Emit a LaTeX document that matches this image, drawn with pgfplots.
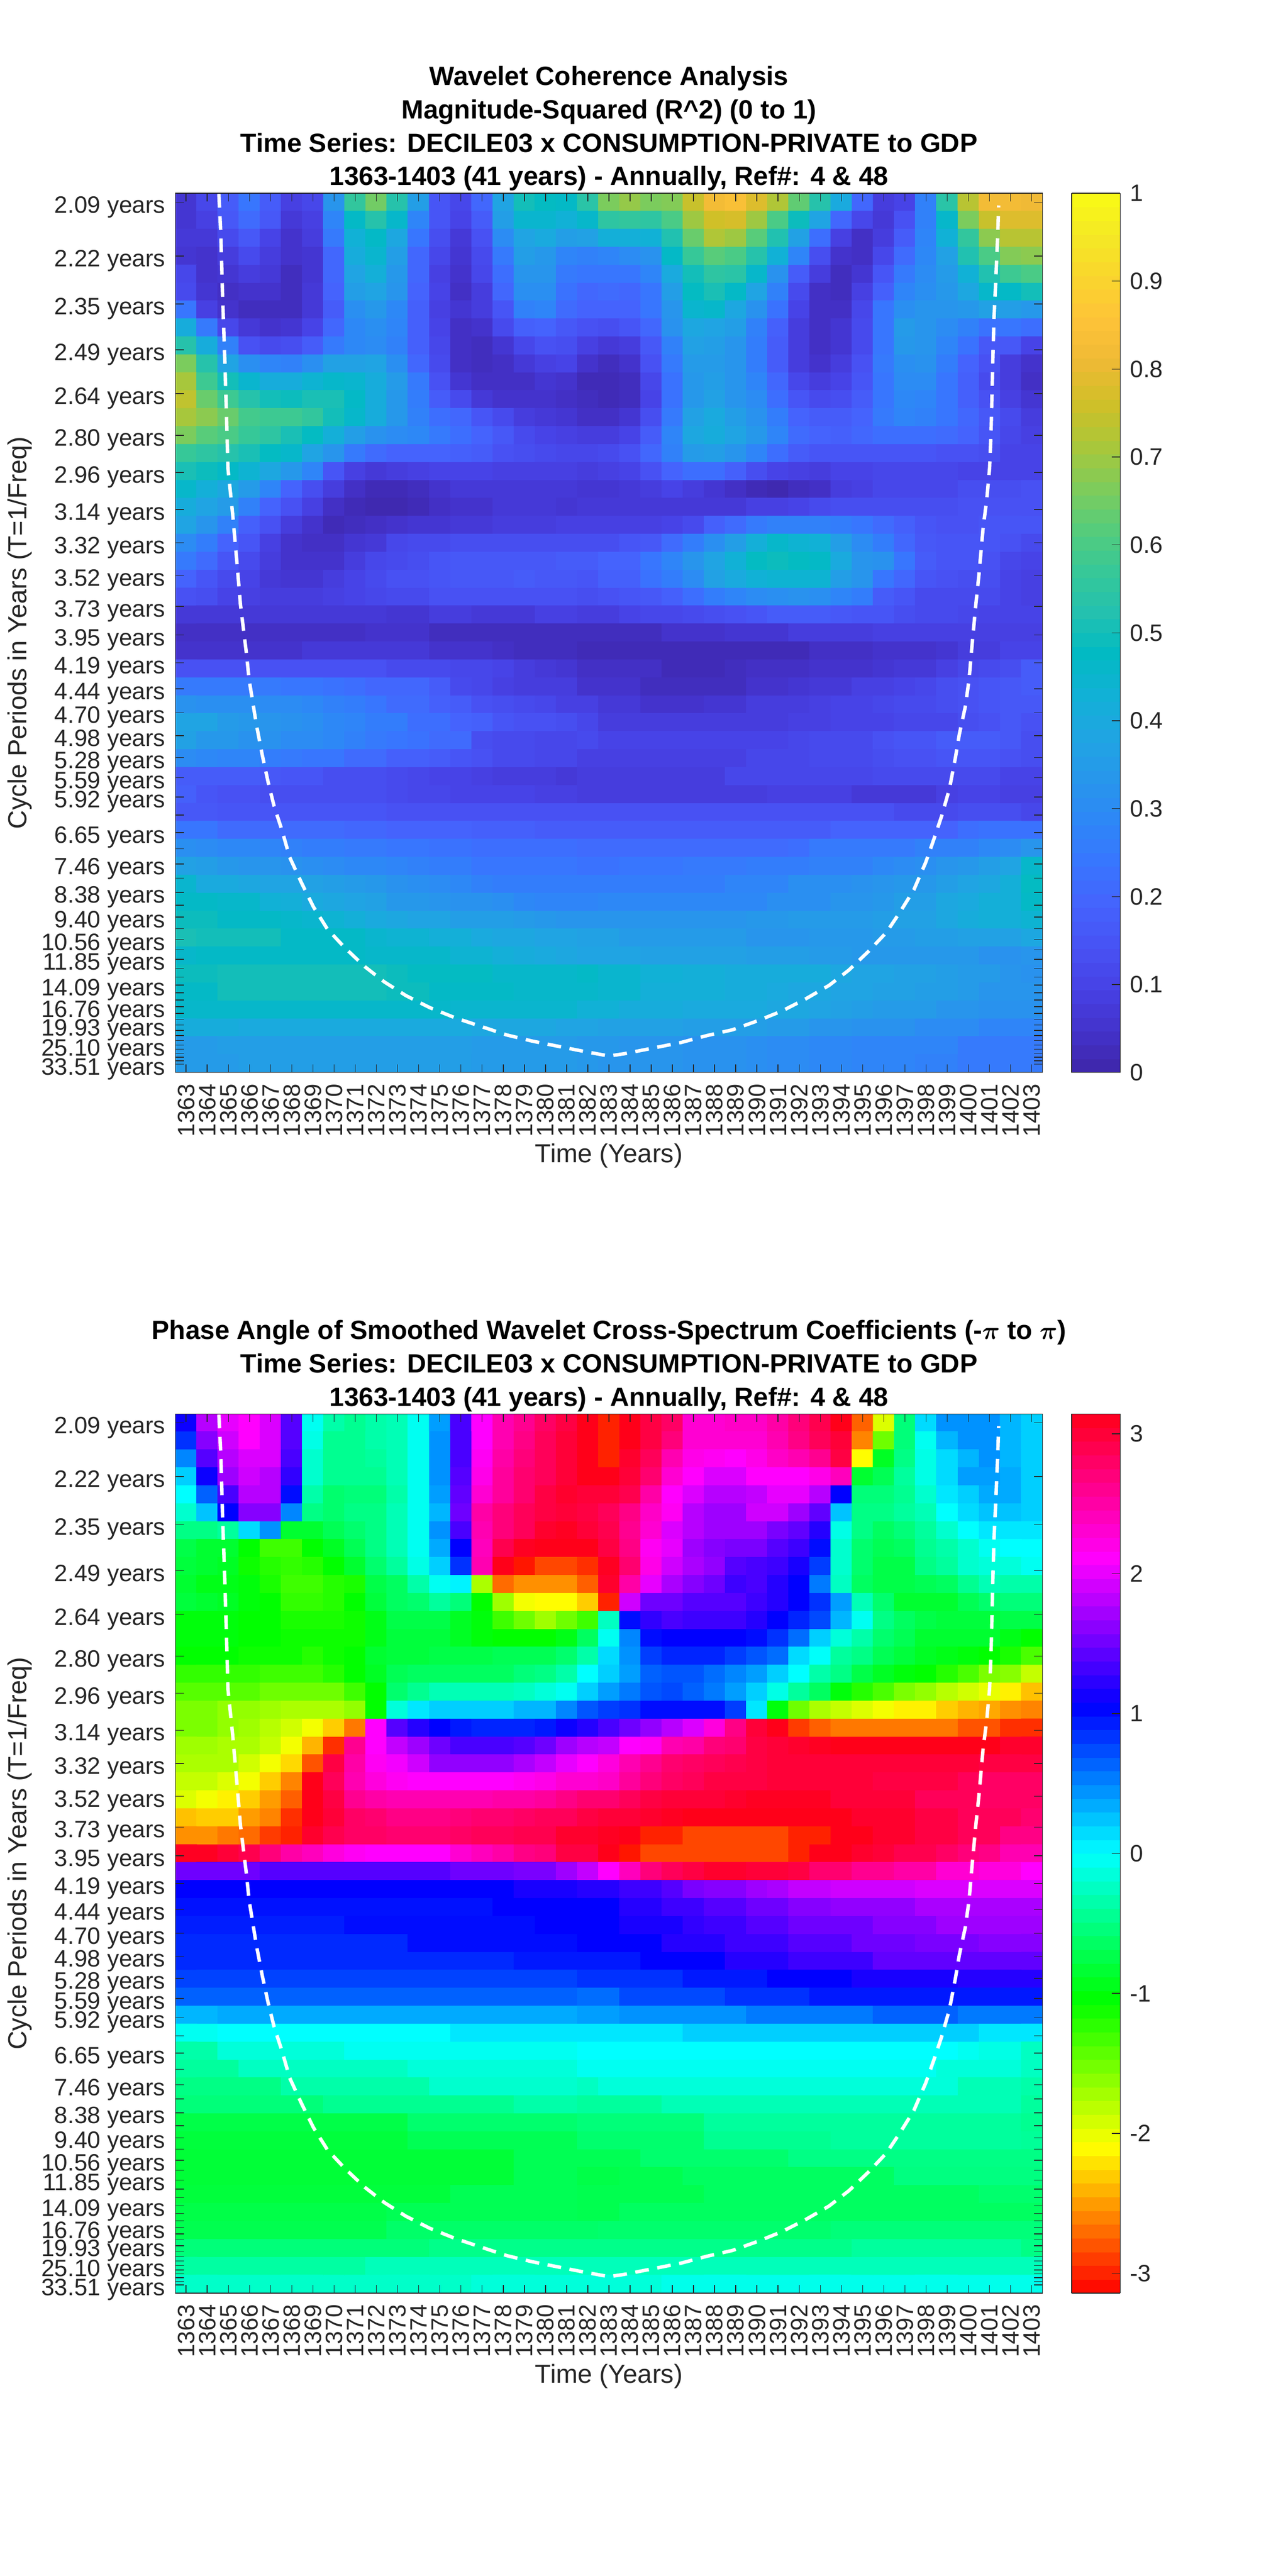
\documentclass[border=0pt]{standalone}
\usepackage{fontspec}
\setmainfont{Liberation Sans}
\usepackage{pgfplots}
\pgfplotsset{compat=1.18}
\usepackage{pgfplotstable}
\definecolor{axgray}{RGB}{38,38,38}
\pgfplotstableread{
yr f
1364.55 0.4828
1364.64 0.46265
1364.70 0.43903
1364.75 0.42173
1364.83 0.39655
1364.90 0.37137
1364.98 0.33991
1365.20 0.31632
1365.39 0.29273
1365.57 0.26914
1365.85 0.24394
1365.98 0.23000
1366.32 0.20688
1366.60 0.19088
1366.88 0.17664
1367.16 0.16420
1367.53 0.15176
1367.90 0.13752
1368.46 0.12418
1369.02 0.11175
1369.68 0.10019
1370.51 0.09041
1371.45 0.08062
1372.38 0.07263
1373.40 0.06551
1374.52 0.05929
1375.73 0.05395
1376.94 0.04951
1378.16 0.04505
1379.37 0.04185
1380.49 0.03937
1381.80 0.03652
1383.00 0.03409
1383.72 0.03527
1385.21 0.03849
1386.42 0.04115
1387.63 0.04471
1388.84 0.04773
1390.06 0.05253
1391.18 0.05751
1392.29 0.06373
1393.41 0.07085
1394.35 0.07885
1395.28 0.08863
1396.12 0.09841
1396.77 0.10909
1397.42 0.12062
1397.98 0.13487
1398.35 0.14642
1398.73 0.15886
1399.10 0.17310
1399.38 0.18910
1399.57 0.20154
1399.85 0.21578
1400.03 0.23000
1400.17 0.24778
1400.35 0.26914
1400.50 0.28484
1400.69 0.30845
1400.87 0.32417
1401.00 0.33991
1401.06 0.35565
1401.10 0.37137
1401.15 0.39498
1401.21 0.41857
1401.28 0.43432
1401.34 0.45006
1401.39 0.46265
1401.43 0.47680
}\coi
\pgfplotsset{
  waveaxis/.style={
    scale only axis, width=504.96pt, height=512.16pt,
    xmin=1362.5, xmax=1403.5, ymin=0.02551, ymax=0.48317,
    axis on top, tick align=inside, major tick length=4.8pt,
    axis line style={axgray,line width=0.45pt},
    tick style={axgray,line width=0.45pt},
    xtick={1363,1364,...,1403},
    xticklabel pos=lower, yticklabel pos=left,
    xticklabel style={rotate=90,anchor=east,font=\fontsize{13.8}{14}\selectfont,text=axgray,
      /pgf/number format/1000 sep={},/pgf/number format/assume math mode=true,inner sep=0pt,xshift=-6.5pt},
    yticklabel style={font=\fontsize{13.8}{14}\selectfont,text=axgray,inner sep=0pt,xshift=-5.8pt,yshift=-2.8pt},
    ytick={0.4785,0.4505,0.4255,0.4016,0.3788,0.3571,0.3378,0.3185,0.3012,0.2841,0.2681,0.2532,0.2387,0.2252,0.2128,0.2008,0.1894,0.1789,0.1689,0.1595,0.1504,0.1420,0.1340,0.1266,0.1193,0.1126,0.1064,0.1004,0.0947,0.0894,0.0844,0.0797,0.0752,0.0710,0.0670,0.0632,0.0597,0.0563,0.0532,0.0502,0.0474,0.0447,0.0422,0.0398,0.0376,0.0355,0.0335,0.0316,0.0298},
    yticklabels={2.09 years,2.22 years,2.35 years,2.49 years,2.64 years,2.80 years,2.96 years,3.14 years,3.32 years,3.52 years,3.73 years,3.95 years,4.19 years,4.44 years,4.70 years,4.98 years,5.28 years,5.59 years,5.92 years,{},6.65 years,{},7.46 years,{},8.38 years,{},9.40 years,{},10.56 years,{},11.85 years,{},{},14.09 years,{},{},16.76 years,{},{},19.93 years,{},{},{},25.10 years,{},{},{},{},33.51 years},
    xlabel={Time (Years)},
    ylabel={Cycle Periods in Years (T=1/Freq)},
    xlabel style={at={(axis description cs:0.5,-0.0945)},anchor=center,font=\fontsize{15.2}{16}\selectfont,text=axgray},
    ylabel style={at={(axis description cs:-0.1795,0.5)},anchor=center,font=\fontsize{15.2}{16}\selectfont,text=axgray},
    title style={at={(axis description cs:0.5,1)},anchor=south,align=center,yshift=-8.2pt,font=\bfseries\fontsize{15.4}{19.4}\selectfont,text=black},
    colorbar sampled,
    colorbar shift/.style={},
  },
  barstyle/.style={
    width=28.3pt, samples=65,
    at={(parent axis.north east)}, anchor=north west, xshift=17.04pt,
    axis line style={axgray,line width=0.45pt},
    tick align=inside, major tick length=4.8pt, ytick pos=right, yticklabel pos=right,
    tick style={axgray,line width=0.45pt},
    yticklabel style={font=\fontsize{13.8}{14}\selectfont,text=axgray,inner sep=0pt,xshift=5.5pt},
  },
}
\begin{document}
\begin{tikzpicture}
\path[use as bounding box] (0,0) rectangle (750pt,1500.48pt);
\begin{axis}[waveaxis, at={(102.24pt,875.76pt)}, anchor=south west,
  title={Wavelet Coherence Analysis\\Magnitude-Squared (R\textasciicircum 2) (0 to 1)\\Time Series: DECILE03 x CONSUMPTION-PRIVATE to GDP\\1363-1403 (41 years) - Annually, Ref\#: 4 \& 48},
  colormap={parulam}{rgb(0)=(.2422,.1504,.6603) rgb(3)=(.2647,.1978,.7952) rgb(6)=(.2783,.2559,.8991) rgb(9)=(.2810,.3228,.9579) rgb(12)=(.2699,.3892,.9906) rgb(15)=(.2206,.4603,.9973) rgb(18)=(.1786,.5289,.9682) rgb(21)=(.1540,.5902,.9218) rgb(24)=(.1248,.6459,.8883) rgb(27)=(.0689,.6948,.8394) rgb(30)=(.0067,.7312,.7660) rgb(33)=(.1408,.7584,.6842) rgb(36)=(.2161,.7843,.5923) rgb(39)=(.3406,.8008,.4789) rgb(42)=(.5044,.7993,.3480) rgb(45)=(.6720,.7793,.2227) rgb(48)=(.8203,.7498,.1535) rgb(51)=(.9393,.7288,.2100) rgb(54)=(.9970,.7659,.2199) rgb(57)=(.9786,.8386,.1766) rgb(60)=(.9597,.9135,.1423) rgb(63)=(.9769,.9839,.0805)},
  point meta min=0, point meta max=100,
  colorbar style={barstyle, ytick={0,10,20,30,40,50,60,70,80,90,100}, yticklabels={0,0.1,0.2,0.3,0.4,0.5,0.6,0.7,0.8,0.9,1}},
]
% coherence in percent, one row per period, 41 years per row
\addplot[matrix plot*, mesh/cols=41, point meta=explicit] table[row sep=crcr, x expr={1363+floor(\coordindex+0.5-41*floor((\coordindex+0.5)/41))}, y expr={0.4785-0.00934*floor((\coordindex+0.5)/41)}, meta=z] {z\\
6\\11\\17\\24\\17\\9\\11\\33\\56\\65\\53\\36\\15\\11\\20\\38\\50\\48\\47\\54\\66\\69\\66\\67\\75\\82\\84\\78\\72\\63\\53\\40\\20\\8\\10\\27\\54\\73\\82\\82\\81\\
6\\9\\16\\21\\16\\7\\9\\28\\47\\53\\46\\28\\15\\10\\17\\36\\45\\45\\43\\46\\55\\56\\55\\60\\70\\76\\77\\70\\60\\49\\38\\20\\11\\7\\14\\27\\46\\66\\75\\78\\78\\
7\\7\\12\\16\\10\\5\\8\\25\\43\\47\\39\\24\\13\\7\\14\\30\\38\\40\\36\\37\\42\\42\\43\\52\\64\\72\\70\\62\\52\\37\\22\\9\\4\\8\\17\\28\\43\\56\\68\\73\\73\\
6\\5\\8\\12\\8\\5\\6\\20\\41\\45\\36\\20\\11\\6\\12\\25\\36\\34\\28\\27\\28\\30\\32\\47\\57\\62\\60\\53\\43\\28\\13\\5\\4\\11\\21\\29\\37\\52\\60\\67\\68\\
11\\5\\6\\8\\7\\3\\6\\20\\38\\42\\34\\20\\9\\5\\11\\22\\33\\33\\25\\24\\24\\24\\28\\40\\50\\55\\54\\46\\32\\17\\8\\3\\6\\15\\25\\30\\35\\43\\52\\58\\60\\
12\\6\\4\\5\\5\\3\\7\\19\\36\\38\\33\\19\\10\\4\\8\\20\\31\\31\\23\\20\\21\\20\\24\\36\\48\\51\\47\\38\\27\\12\\4\\3\\9\\18\\28\\31\\34\\39\\46\\47\\50\\
24\\9\\5\\3\\3\\3\\7\\17\\31\\34\\29\\18\\9\\6\\8\\15\\27\\28\\21\\19\\19\\19\\24\\33\\45\\46\\39\\32\\23\\10\\4\\4\\11\\24\\31\\33\\33\\34\\37\\36\\34\\
41\\25\\11\\7\\5\\6\\10\\20\\29\\31\\28\\18\\10\\4\\5\\12\\18\\19\\16\\14\\13\\15\\20\\32\\39\\38\\36\\27\\18\\8\\4\\6\\12\\24\\35\\33\\30\\27\\23\\24\\22\\
53\\41\\27\\14\\12\\13\\17\\25\\29\\30\\27\\18\\11\\4\\3\\6\\11\\14\\13\\9\\7\\8\\16\\27\\37\\36\\33\\26\\17\\8\\4\\6\\12\\24\\34\\33\\28\\23\\16\\16\\10\\
66\\53\\38\\31\\28\\27\\31\\37\\37\\38\\31\\20\\12\\4\\3\\4\\7\\9\\10\\5\\3\\5\\14\\25\\35\\35\\33\\26\\17\\8\\5\\8\\14\\25\\31\\32\\26\\19\\14\\8\\5\\
71\\58\\50\\45\\41\\41\\44\\46\\45\\41\\35\\25\\14\\6\\4\\4\\4\\6\\5\\2\\2\\3\\11\\23\\34\\36\\33\\28\\20\\11\\8\\10\\15\\24\\30\\30\\24\\18\\12\\8\\4\\
74\\64\\58\\53\\50\\49\\51\\51\\47\\41\\34\\26\\17\\12\\7\\5\\5\\5\\4\\3\\2\\3\\10\\23\\34\\37\\33\\30\\22\\15\\12\\13\\17\\24\\29\\28\\24\\18\\14\\9\\6\\
71\\68\\64\\59\\58\\58\\56\\50\\46\\41\\34\\27\\22\\20\\15\\12\\8\\7\\6\\4\\4\\6\\13\\25\\37\\40\\36\\32\\26\\19\\17\\17\\19\\25\\28\\27\\24\\20\\16\\12\\8\\
66\\62\\60\\57\\55\\51\\48\\42\\36\\32\\30\\29\\25\\22\\19\\16\\12\\10\\9\\8\\8\\10\\17\\28\\39\\41\\38\\34\\28\\21\\19\\18\\20\\22\\22\\22\\21\\19\\15\\11\\9\\
57\\55\\53\\51\\48\\46\\38\\33\\25\\21\\19\\19\\19\\18\\17\\14\\13\\12\\11\\11\\12\\14\\20\\27\\35\\36\\33\\28\\22\\17\\15\\15\\15\\15\\15\\15\\14\\14\\13\\10\\10\\
51\\49\\47\\44\\39\\34\\28\\15\\9\\7\\8\\9\\10\\10\\10\\9\\9\\9\\9\\8\\9\\10\\14\\19\\22\\22\\18\\13\\10\\9\\8\\10\\10\\11\\11\\11\\11\\10\\10\\10\\10\\
46\\42\\39\\35\\28\\19\\13\\8\\4\\2\\2\\3\\5\\7\\7\\7\\7\\7\\7\\6\\6\\7\\8\\10\\8\\6\\4\\2\\1\\3\\4\\8\\9\\11\\11\\11\\11\\13\\13\\13\\14\\
41\\38\\35\\27\\19\\14\\9\\4\\2\\1\\1\\2\\4\\5\\5\\7\\7\\7\\6\\7\\7\\7\\7\\7\\7\\7\\7\\9\\9\\10\\12\\13\\13\\13\\13\\13\\13\\14\\14\\14\\14\\
38\\33\\27\\18\\14\\8\\5\\2\\3\\4\\5\\6\\6\\7\\7\\8\\8\\8\\9\\9\\9\\9\\9\\10\\12\\18\\21\\25\\27\\27\\27\\26\\24\\21\\18\\15\\14\\14\\15\\15\\15\\
30\\26\\19\\15\\9\\5\\4\\4\\6\\7\\11\\12\\12\\13\\13\\13\\13\\13\\13\\13\\13\\15\\16\\21\\26\\31\\36\\42\\46\\44\\43\\36\\30\\26\\20\\16\\15\\15\\15\\14\\12\\
25\\21\\15\\12\\8\\5\\5\\5\\8\\11\\12\\13\\15\\16\\16\\16\\16\\16\\17\\17\\19\\19\\24\\28\\33\\38\\43\\48\\49\\48\\47\\40\\33\\32\\24\\17\\15\\15\\14\\11\\10\\
19\\15\\12\\10\\7\\6\\6\\8\\10\\12\\14\\14\\15\\16\\16\\16\\17\\16\\16\\15\\18\\18\\23\\26\\30\\37\\40\\43\\44\\44\\44\\36\\33\\24\\20\\15\\14\\13\\13\\10\\9\\
14\\13\\10\\9\\8\\8\\8\\9\\10\\11\\12\\12\\14\\14\\14\\14\\14\\14\\14\\13\\14\\15\\16\\18\\22\\26\\28\\30\\31\\32\\31\\28\\26\\17\\15\\12\\12\\12\\12\\10\\9\\
7\\7\\7\\7\\7\\7\\7\\7\\7\\7\\6\\6\\8\\8\\7\\7\\7\\9\\9\\8\\8\\10\\11\\11\\12\\13\\14\\15\\17\\17\\17\\16\\15\\15\\13\\12\\12\\11\\10\\10\\10\\
4\\4\\4\\4\\4\\4\\4\\4\\4\\5\\5\\5\\3\\3\\3\\3\\3\\3\\3\\3\\3\\3\\3\\5\\5\\5\\6\\6\\6\\8\\8\\8\\8\\9\\9\\9\\9\\9\\9\\9\\9\\
5\\5\\5\\5\\5\\5\\7\\7\\7\\7\\7\\7\\5\\5\\5\\4\\3\\3\\3\\2\\2\\2\\2\\2\\2\\2\\2\\2\\2\\2\\4\\4\\4\\5\\5\\5\\6\\8\\8\\10\\10\\
14\\14\\14\\14\\14\\14\\14\\14\\14\\14\\12\\12\\12\\11\\11\\10\\8\\7\\6\\4\\4\\4\\4\\2\\2\\2\\3\\4\\4\\4\\5\\5\\5\\6\\7\\7\\9\\11\\12\\13\\17\\
25\\25\\25\\25\\25\\24\\24\\23\\22\\20\\20\\20\\17\\12\\11\\9\\8\\8\\8\\5\\5\\5\\3\\3\\3\\3\\3\\5\\5\\6\\7\\7\\9\\9\\10\\11\\13\\14\\15\\16\\17\\
32\\31\\31\\31\\30\\30\\29\\27\\26\\24\\21\\21\\18\\17\\14\\13\\12\\11\\9\\9\\7\\7\\5\\5\\5\\6\\6\\8\\8\\8\\9\\10\\10\\11\\12\\12\\13\\14\\15\\16\\16\\
38\\38\\35\\34\\33\\32\\31\\29\\28\\26\\26\\22\\22\\19\\18\\15\\14\\14\\13\\11\\8\\8\\8\\8\\8\\8\\8\\8\\8\\9\\9\\10\\10\\10\\11\\11\\11\\13\\14\\16\\14\\
37\\34\\34\\32\\32\\30\\30\\29\\27\\25\\24\\23\\21\\21\\13\\12\\12\\11\\11\\12\\10\\10\\10\\10\\10\\10\\10\\10\\10\\11\\12\\12\\12\\14\\15\\15\\17\\17\\17\\16\\13\\
30\\29\\28\\28\\26\\25\\24\\24\\21\\21\\18\\18\\17\\15\\14\\12\\12\\11\\11\\9\\9\\9\\9\\9\\9\\9\\9\\11\\11\\11\\12\\12\\12\\13\\14\\14\\15\\15\\15\\14\\13\\
17\\17\\17\\17\\16\\15\\15\\13\\13\\13\\12\\11\\10\\10\\9\\8\\8\\8\\7\\8\\8\\8\\8\\8\\8\\8\\11\\11\\11\\11\\11\\11\\11\\12\\12\\12\\12\\12\\12\\10\\10\\
18\\15\\14\\14\\13\\13\\13\\13\\13\\13\\12\\11\\11\\10\\10\\10\\10\\9\\9\\8\\8\\8\\8\\8\\8\\8\\8\\8\\9\\9\\9\\9\\7\\7\\7\\7\\9\\10\\10\\9\\9\\
16\\16\\15\\15\\15\\15\\15\\15\\15\\15\\14\\14\\14\\14\\14\\14\\14\\14\\14\\14\\14\\14\\14\\14\\14\\14\\14\\14\\14\\14\\14\\14\\14\\14\\12\\12\\12\\13\\13\\13\\11\\
24\\24\\21\\21\\21\\21\\21\\21\\20\\20\\19\\19\\19\\19\\18\\18\\18\\17\\17\\17\\17\\17\\17\\17\\17\\17\\17\\17\\17\\17\\17\\19\\19\\19\\19\\19\\19\\22\\23\\23\\23\\
31\\30\\29\\29\\28\\27\\26\\26\\25\\25\\24\\24\\23\\23\\22\\22\\22\\22\\22\\21\\21\\21\\21\\21\\21\\21\\21\\21\\21\\22\\25\\25\\25\\25\\25\\27\\27\\27\\29\\30\\33\\
37\\36\\34\\33\\33\\32\\31\\30\\29\\29\\28\\27\\26\\26\\24\\24\\24\\24\\24\\23\\23\\24\\24\\24\\25\\25\\25\\26\\26\\26\\27\\27\\27\\29\\30\\31\\33\\34\\36\\38\\46\\
45\\40\\40\\39\\38\\38\\37\\36\\35\\34\\32\\31\\30\\29\\27\\26\\26\\26\\26\\26\\26\\26\\26\\26\\26\\26\\28\\28\\28\\31\\31\\31\\32\\33\\34\\34\\36\\38\\39\\42\\48\\
47\\47\\46\\46\\43\\42\\40\\39\\38\\37\\34\\34\\33\\32\\32\\31\\29\\28\\28\\28\\29\\29\\29\\29\\29\\29\\29\\29\\31\\31\\31\\33\\33\\34\\36\\36\\39\\40\\42\\42\\47\\
49\\49\\47\\47\\47\\46\\45\\44\\42\\40\\39\\38\\38\\36\\36\\36\\35\\34\\33\\33\\33\\33\\33\\33\\33\\33\\33\\34\\34\\35\\35\\35\\35\\36\\37\\37\\39\\41\\42\\42\\44\\
51\\50\\50\\50\\50\\47\\47\\47\\47\\45\\44\\44\\42\\42\\40\\39\\39\\38\\38\\37\\37\\35\\35\\35\\35\\35\\35\\33\\33\\33\\34\\34\\34\\35\\35\\36\\36\\37\\37\\37\\39\\
46\\47\\47\\47\\47\\47\\47\\47\\47\\46\\46\\46\\46\\44\\44\\42\\41\\40\\39\\38\\38\\38\\37\\37\\37\\37\\37\\36\\36\\36\\35\\35\\34\\34\\34\\34\\34\\34\\32\\32\\33\\
49\\49\\50\\50\\50\\50\\50\\50\\50\\50\\49\\48\\48\\48\\48\\46\\46\\46\\46\\47\\45\\45\\43\\43\\42\\42\\41\\41\\41\\41\\41\\39\\38\\38\\37\\37\\36\\35\\35\\33\\32\\
47\\47\\50\\50\\50\\50\\50\\50\\50\\50\\49\\49\\47\\47\\47\\47\\46\\46\\46\\46\\45\\45\\42\\42\\42\\42\\41\\41\\40\\39\\39\\38\\38\\37\\37\\36\\36\\35\\33\\33\\33\\
46\\46\\46\\46\\46\\46\\46\\46\\46\\46\\46\\46\\46\\45\\45\\45\\45\\45\\45\\43\\43\\41\\41\\41\\40\\40\\40\\40\\39\\39\\38\\37\\36\\35\\35\\35\\33\\33\\32\\32\\32\\
41\\41\\41\\40\\40\\40\\40\\40\\40\\40\\40\\40\\40\\40\\39\\39\\39\\39\\38\\38\\37\\37\\37\\37\\36\\36\\36\\36\\35\\35\\33\\33\\32\\32\\32\\30\\30\\30\\28\\28\\28\\
35\\35\\36\\36\\36\\36\\36\\36\\36\\36\\36\\36\\36\\36\\35\\35\\35\\35\\35\\34\\34\\33\\33\\33\\32\\32\\32\\31\\30\\30\\29\\29\\28\\28\\28\\28\\28\\25\\25\\25\\25\\
35\\35\\35\\36\\36\\36\\36\\36\\36\\36\\36\\36\\36\\36\\35\\35\\35\\35\\35\\34\\33\\33\\33\\33\\32\\32\\32\\31\\30\\30\\29\\29\\28\\28\\28\\27\\27\\25\\25\\25\\25\\
};
\addplot[white, line width=2pt, dash pattern=on 8pt off 5pt] table[x=yr,y=f] {\coi};
\end{axis}
\begin{axis}[waveaxis, at={(102.24pt,164.76pt)}, anchor=south west,
  title={Phase Angle of Smoothed Wavelet Cross-Spectrum Coefficients (-{\boldmath$\pi$} to {\boldmath$\pi$})\\Time Series: DECILE03 x CONSUMPTION-PRIVATE to GDP\\1363-1403 (41 years) - Annually, Ref\#: 4 \& 48},
  colormap={hsvm}{rgb255(0)=(255,0,0) rgb255(1)=(255,255,0) rgb255(2)=(0,255,0) rgb255(3)=(0,255,255) rgb255(4)=(0,0,255) rgb255(5)=(255,0,255) rgb255(6)=(255,0,24)},
  point meta min=-3.1416, point meta max=3.1416,
  colorbar style={barstyle, ytick={-3,-2,-1,0,1,2,3}, yticklabels={-3,-2,-1,0,1,2,3}},
]
\addplot[matrix plot*, mesh/cols=41, point meta=explicit] table[row sep=crcr, x expr={1363+floor(\coordindex+0.5-41*floor((\coordindex+0.5)/41))}, y expr={0.4785-0.00934*floor((\coordindex+0.5)/41)}, meta=z] {z\\
1.1\\1.8\\2.0\\2.1\\1.95\\1.4\\-0.05\\-0.35\\-0.45\\-0.35\\-0.3\\-0.05\\0.4\\1.35\\2.1\\2.45\\2.6\\2.8\\2.95\\3.14\\-3.0\\3.14\\2.95\\2.8\\2.3\\2.3\\2.35\\2.35\\2.5\\2.7\\2.9\\3.14\\-2.74\\-1.95\\-0.55\\0.15\\0.45\\0.45\\0.45\\0.3\\0.2\\
0.85\\1.6\\1.9\\2.1\\1.95\\1.4\\-0.1\\-0.45\\-0.45\\-0.35\\-0.3\\-0.05\\0.45\\1.35\\2.1\\2.45\\2.65\\2.85\\3.0\\3.14\\-3.0\\3.14\\2.95\\2.7\\2.3\\2.3\\2.3\\2.3\\2.45\\2.65\\2.85\\3.0\\-2.6\\-1.5\\-0.55\\-0.05\\0.3\\0.45\\0.45\\0.3\\0.2\\
0.5\\1.4\\1.8\\1.95\\1.95\\1.35\\-0.2\\-0.45\\-0.45\\-0.4\\-0.3\\-0.05\\0.45\\1.35\\2.15\\2.5\\2.7\\2.85\\3.0\\3.14\\-3.0\\3.05\\2.85\\2.45\\2.2\\2.15\\2.1\\2.2\\2.35\\2.45\\2.6\\2.95\\-2.1\\-0.9\\-0.5\\-0.1\\0.15\\0.3\\0.45\\0.3\\0.2\\
0.2\\1.1\\1.7\\1.9\\1.8\\1.25\\-0.2\\-0.45\\-0.45\\-0.45\\-0.3\\-0.05\\0.45\\1.4\\2.2\\2.55\\2.75\\2.85\\3.0\\3.14\\3.14\\3.0\\2.75\\2.3\\2.1\\1.95\\1.95\\2.1\\2.1\\2.1\\2.2\\2.4\\-0.85\\-0.7\\-0.4\\-0.1\\0.15\\0.4\\0.4\\0.35\\0.2\\
0.0\\0.65\\1.35\\1.8\\1.8\\1.0\\-0.35\\-0.6\\-0.55\\-0.55\\-0.35\\-0.05\\0.4\\1.45\\2.3\\2.55\\2.75\\2.95\\3.05\\3.0\\3.0\\2.9\\2.5\\2.1\\1.95\\1.8\\1.8\\1.85\\2.0\\2.0\\1.8\\1.05\\-0.55\\-0.55\\-0.45\\-0.2\\0.1\\0.2\\0.35\\0.35\\0.2\\
-0.2\\0.25\\1.05\\1.6\\1.6\\0.5\\-0.5\\-0.6\\-0.5\\-0.5\\-0.3\\-0.05\\0.3\\1.5\\2.5\\2.7\\2.85\\2.95\\3.0\\2.95\\2.85\\2.65\\2.35\\2.15\\1.8\\1.7\\1.7\\1.9\\1.9\\1.7\\1.45\\0.25\\-0.5\\-0.5\\-0.4\\-0.3\\0.0\\0.15\\0.25\\0.25\\0.2\\
-0.5\\-0.5\\-0.4\\0.15\\0.45\\-0.85\\-0.85\\-0.7\\-0.6\\-0.5\\-0.3\\-0.05\\0.45\\1.35\\2.45\\2.7\\2.85\\3.05\\3.1\\3.0\\2.9\\2.6\\2.3\\1.95\\1.8\\1.7\\1.7\\1.7\\1.55\\1.45\\1.2\\-0.1\\-0.5\\-0.65\\-0.55\\-0.4\\-0.2\\0.0\\0.1\\0.1\\0.1\\
-0.75\\-0.85\\-0.85\\-1.05\\-1.3\\-1.3\\-1.05\\-0.9\\-0.7\\-0.5\\-0.3\\-0.05\\0.35\\1.05\\2.4\\2.9\\3.1\\3.14\\3.14\\3.14\\2.95\\2.65\\2.15\\2.0\\1.7\\1.6\\1.55\\1.55\\1.4\\1.3\\1.0\\-0.2\\-0.6\\-0.7\\-0.65\\-0.45\\-0.35\\-0.2\\-0.05\\0.0\\0.0\\
-0.8\\-0.85\\-0.9\\-1.1\\-1.2\\-1.25\\-1.2\\-1.05\\-0.85\\-0.6\\-0.4\\-0.1\\0.2\\0.85\\2.45\\3.14\\-3.05\\-2.85\\-2.85\\-2.95\\3.1\\2.75\\2.2\\1.9\\1.75\\1.65\\1.4\\1.35\\1.3\\1.15\\0.8\\-0.2\\-0.6\\-0.75\\-0.75\\-0.5\\-0.4\\-0.2\\-0.15\\-0.15\\-0.05\\
-0.85\\-0.95\\-0.95\\-1.0\\-1.15\\-1.3\\-1.3\\-1.2\\-1.15\\-0.75\\-0.65\\-0.35\\-0.05\\0.05\\-1.75\\-2.7\\-2.55\\-2.55\\-2.55\\-2.75\\3.05\\2.5\\2.0\\1.75\\1.6\\1.5\\1.3\\1.35\\1.2\\1.05\\0.55\\-0.25\\-0.65\\-0.75\\-0.75\\-0.7\\-0.65\\-0.45\\-0.3\\-0.35\\-0.35\\
-0.8\\-0.85\\-0.9\\-1.0\\-1.05\\-1.25\\-1.25\\-1.2\\-1.05\\-0.8\\-0.65\\-0.6\\-0.4\\-0.55\\-1.05\\-1.7\\-2.05\\-2.1\\-2.1\\-2.3\\-3.0\\1.9\\1.5\\1.5\\1.4\\1.4\\1.4\\1.3\\1.2\\1.05\\0.85\\0.4\\-0.3\\-0.6\\-0.85\\-0.85\\-0.85\\-0.7\\-0.6\\-0.55\\-0.55\\
-1.0\\-1.0\\-1.0\\-1.05\\-1.05\\-1.15\\-1.15\\-1.15\\-1.1\\-0.95\\-0.75\\-0.75\\-0.75\\-0.9\\-1.0\\-1.3\\-1.5\\-1.7\\-1.5\\-1.3\\-0.25\\1.0\\1.25\\1.35\\1.3\\1.3\\1.3\\1.2\\1.05\\0.9\\0.75\\0.3\\-0.05\\-0.5\\-0.65\\-0.75\\-0.8\\-0.8\\-0.8\\-0.75\\-0.75\\
-1.0\\-1.0\\-1.0\\-1.05\\-1.05\\-1.1\\-1.1\\-1.1\\-1.1\\-0.95\\-0.8\\-0.8\\-0.8\\-0.9\\-1.0\\-1.05\\-1.05\\-1.05\\-0.95\\-0.65\\-0.05\\0.5\\1.0\\1.05\\1.05\\1.05\\1.05\\1.0\\0.85\\0.6\\0.2\\-0.15\\-0.35\\-0.6\\-0.7\\-0.85\\-0.85\\-0.85\\-0.85\\-0.95\\-1.05\\
-1.05\\-1.05\\-1.05\\-1.1\\-1.1\\-1.1\\-1.2\\-1.1\\-1.05\\-0.85\\-0.8\\-0.8\\-0.75\\-0.75\\-0.75\\-0.7\\-0.7\\-0.7\\-0.6\\-0.35\\0.15\\0.45\\0.8\\0.9\\0.9\\0.9\\0.8\\0.7\\0.6\\0.15\\-0.02\\-0.4\\-0.5\\-0.7\\-0.8\\-0.9\\-0.95\\-1.0\\-1.05\\-1.15\\-1.35\\
-1.25\\-1.25\\-1.25\\-1.25\\-1.3\\-1.3\\-1.3\\-1.2\\-1.05\\-0.9\\-0.7\\-0.65\\-0.65\\-0.65\\-0.65\\-0.65\\-0.55\\-0.5\\-0.35\\0.0\\0.2\\0.4\\0.65\\0.7\\0.7\\0.6\\0.5\\0.4\\0.2\\0.0\\-0.35\\-0.5\\-0.75\\-0.9\\-1.0\\-1.05\\-1.2\\-1.35\\-1.55\\-1.6\\-1.85\\
-1.4\\-1.4\\-1.4\\-1.4\\-1.5\\-1.5\\-1.5\\-1.5\\-1.3\\-1.05\\-0.6\\-0.45\\-0.3\\-0.3\\-0.3\\-0.3\\-0.25\\-0.15\\-0.05\\0.2\\0.4\\0.55\\0.7\\0.75\\0.65\\0.55\\0.4\\0.2\\-0.1\\-0.4\\-0.65\\-1.0\\-1.2\\-1.35\\-1.55\\-1.65\\-1.8\\-1.9\\-2.0\\-2.15\\-2.35\\
-1.55\\-1.55\\-1.65\\-1.65\\-1.7\\-1.75\\-1.75\\-1.75\\-1.65\\-1.05\\-0.15\\0.1\\0.2\\0.2\\0.2\\0.2\\0.3\\0.3\\0.5\\0.7\\0.8\\0.85\\1.0\\1.0\\1.0\\1.0\\0.8\\0.1\\-1.0\\-1.5\\-1.75\\-1.85\\-1.95\\-2.05\\-2.15\\-2.15\\-2.3\\-2.4\\-2.45\\-2.55\\-2.6\\
-1.55\\-1.55\\-1.65\\-1.7\\-1.8\\-1.9\\-2.05\\-2.3\\-2.65\\2.1\\1.4\\1.2\\1.05\\0.95\\0.9\\0.9\\0.9\\0.95\\1.1\\1.2\\1.35\\1.5\\1.65\\1.8\\1.95\\2.25\\2.65\\3.0\\3.14\\-2.9\\-2.75\\-2.65\\-2.65\\-2.65\\-2.65\\-2.65\\-2.65\\-2.8\\-2.8\\-2.95\\-2.95\\
-1.7\\-1.7\\-1.75\\-1.75\\-1.85\\-2.05\\-2.4\\-2.95\\2.6\\2.1\\1.85\\1.7\\1.5\\1.35\\1.35\\1.35\\1.4\\1.5\\1.7\\1.8\\1.85\\2.1\\2.15\\2.45\\2.5\\2.7\\2.75\\2.95\\3.0\\3.05\\3.1\\3.14\\3.14\\3.14\\3.14\\3.14\\3.14\\3.14\\3.14\\3.05\\3.05\\
-1.75\\-1.75\\-1.75\\-1.9\\-2.05\\-2.25\\-2.8\\2.95\\2.5\\2.15\\2.05\\1.9\\1.65\\1.65\\1.65\\1.65\\1.75\\1.85\\2.0\\2.1\\2.25\\2.45\\2.6\\2.75\\2.8\\2.85\\2.9\\2.95\\3.0\\3.0\\3.0\\3.0\\3.0\\3.0\\3.0\\3.0\\3.0\\3.0\\2.95\\2.95\\2.95\\
-1.85\\-1.85\\-1.95\\-2.05\\-2.3\\-2.6\\3.14\\2.85\\2.45\\2.25\\2.15\\2.1\\2.1\\2.1\\2.1\\2.1\\2.15\\2.2\\2.3\\2.3\\2.35\\2.55\\2.7\\2.8\\2.85\\2.95\\2.95\\2.95\\3.0\\3.0\\3.0\\3.0\\3.0\\2.95\\2.95\\2.95\\2.95\\2.85\\2.8\\2.8\\2.8\\
-1.95\\-2.05\\-2.15\\-2.3\\-2.5\\-2.75\\3.14\\2.95\\2.6\\2.5\\2.45\\2.45\\2.45\\2.45\\2.45\\2.5\\2.5\\2.55\\2.65\\2.75\\2.75\\2.85\\2.95\\3.0\\3.0\\3.0\\3.05\\3.1\\3.1\\3.1\\3.1\\3.0\\3.0\\3.0\\3.0\\2.85\\2.85\\2.85\\2.8\\2.8\\2.8\\
-2.35\\-2.3\\-2.3\\-2.5\\-2.6\\-2.95\\3.14\\3.0\\2.8\\2.75\\2.65\\2.65\\2.65\\2.7\\2.75\\2.75\\2.8\\2.85\\2.85\\2.95\\3.0\\3.0\\3.05\\3.1\\3.14\\3.14\\3.14\\3.14\\3.14\\3.14\\3.14\\3.14\\3.05\\3.05\\3.05\\2.95\\2.95\\2.85\\2.85\\2.85\\2.75\\
-2.55\\-2.55\\-2.65\\-2.7\\-2.9\\-3.0\\3.05\\2.9\\2.8\\2.8\\2.75\\2.75\\2.75\\2.8\\2.85\\2.85\\2.9\\2.9\\3.05\\3.05\\3.1\\3.14\\-3.0\\-3.0\\-2.85\\-2.85\\-2.85\\-2.85\\-2.85\\-3.0\\-3.0\\3.14\\3.14\\3.05\\3.05\\2.95\\2.95\\2.85\\2.85\\2.65\\2.65\\
3.1\\3.1\\3.0\\2.9\\2.7\\2.5\\2.4\\2.25\\2.15\\2.1\\2.1\\2.1\\2.1\\2.3\\2.4\\2.5\\2.65\\2.7\\2.95\\2.95\\3.14\\-3.05\\-2.85\\-2.85\\-2.85\\-2.85\\-2.85\\-2.85\\-2.85\\-3.0\\3.14\\3.14\\3.05\\3.0\\2.9\\2.9\\2.8\\2.7\\2.65\\2.45\\2.45\\
1.5\\1.5\\1.5\\1.5\\1.4\\1.4\\1.4\\1.4\\1.4\\1.4\\1.4\\1.4\\1.4\\1.5\\1.5\\1.5\\1.55\\1.55\\1.7\\1.85\\2.1\\2.4\\2.7\\2.85\\2.95\\3.05\\3.05\\3.0\\3.0\\2.95\\2.75\\2.75\\2.6\\2.6\\2.5\\2.5\\2.3\\2.3\\2.25\\2.25\\2.1\\
1.05\\1.05\\1.05\\1.05\\1.05\\1.05\\1.05\\1.05\\1.05\\1.05\\1.05\\1.05\\1.05\\1.05\\1.05\\1.05\\1.15\\1.15\\1.15\\1.2\\1.2\\1.3\\1.3\\1.4\\1.55\\1.6\\1.6\\1.7\\1.75\\1.85\\1.85\\1.9\\1.9\\1.9\\1.9\\1.95\\1.95\\1.95\\1.95\\1.95\\1.95\\
0.98\\0.98\\0.98\\0.98\\0.98\\0.98\\0.98\\0.98\\0.98\\0.98\\0.98\\0.98\\0.98\\0.98\\0.98\\1.05\\1.05\\1.05\\1.05\\1.05\\1.05\\1.2\\1.2\\1.3\\1.3\\1.4\\1.4\\1.5\\1.5\\1.6\\1.6\\1.65\\1.65\\1.65\\1.65\\1.75\\1.75\\1.75\\1.75\\1.75\\1.75\\
0.93\\0.93\\0.93\\0.93\\0.93\\0.93\\0.93\\0.93\\1.0\\1.0\\1.0\\1.0\\1.0\\1.0\\1.0\\1.0\\1.0\\1.05\\1.05\\1.05\\1.05\\1.15\\1.15\\1.15\\1.25\\1.3\\1.3\\1.4\\1.4\\1.5\\1.5\\1.5\\1.5\\1.6\\1.6\\1.6\\1.7\\1.7\\1.7\\1.7\\1.7\\
0.88\\0.88\\0.88\\0.88\\0.88\\0.88\\0.88\\0.88\\0.88\\0.88\\0.88\\1.0\\1.0\\1.0\\1.0\\1.0\\1.0\\1.0\\1.0\\1.05\\1.05\\1.05\\1.05\\1.2\\1.2\\1.2\\1.3\\1.3\\1.3\\1.4\\1.4\\1.4\\1.5\\1.5\\1.5\\1.55\\1.55\\1.55\\1.6\\1.6\\1.6\\
0.88\\0.88\\0.88\\0.88\\0.88\\0.88\\0.88\\0.88\\0.88\\0.88\\0.88\\0.88\\0.88\\0.88\\0.88\\0.88\\0.95\\0.95\\0.95\\0.95\\0.95\\0.95\\1.05\\1.05\\1.05\\1.05\\1.2\\1.2\\1.2\\1.3\\1.3\\1.3\\1.3\\1.45\\1.45\\1.45\\1.45\\1.45\\1.45\\1.45\\1.45\\
0.78\\0.78\\0.78\\0.78\\0.78\\0.78\\0.78\\0.78\\0.78\\0.78\\0.78\\0.78\\0.78\\0.78\\0.78\\0.78\\0.78\\0.78\\0.78\\0.85\\0.85\\0.85\\0.85\\0.85\\0.95\\0.95\\0.95\\0.95\\1.05\\1.05\\1.05\\1.05\\1.15\\1.15\\1.15\\1.15\\1.15\\1.2\\1.2\\1.2\\1.2\\
0.65\\0.65\\0.65\\0.65\\0.65\\0.65\\0.65\\0.65\\0.65\\0.65\\0.65\\0.65\\0.65\\0.65\\0.65\\0.65\\0.65\\0.65\\0.65\\0.6\\0.6\\0.75\\0.75\\0.75\\0.75\\0.75\\0.85\\0.85\\0.85\\0.85\\0.95\\0.95\\0.95\\0.95\\0.95\\0.95\\0.95\\0.95\\0.95\\0.95\\0.95\\
0.3\\0.3\\0.35\\0.35\\0.35\\0.35\\0.35\\0.35\\0.35\\0.35\\0.35\\0.35\\0.35\\0.35\\0.35\\0.35\\0.35\\0.35\\0.35\\0.4\\0.4\\0.45\\0.45\\0.45\\0.45\\0.45\\0.45\\0.55\\0.55\\0.55\\0.55\\0.55\\0.55\\0.65\\0.65\\0.65\\0.65\\0.55\\0.55\\0.55\\0.55\\
-0.05\\-0.05\\0.0\\0.0\\0.0\\0.0\\0.0\\0.0\\0.0\\0.0\\0.0\\0.0\\0.0\\0.1\\0.1\\0.1\\0.1\\0.1\\0.1\\0.1\\0.1\\0.1\\0.1\\0.1\\0.2\\0.2\\0.2\\0.2\\0.2\\0.2\\0.2\\0.2\\0.2\\0.2\\0.2\\0.2\\0.2\\0.2\\0.1\\0.1\\0.1\\
-0.35\\-0.35\\-0.15\\-0.15\\-0.15\\-0.15\\-0.15\\-0.15\\-0.05\\-0.05\\-0.05\\-0.05\\-0.05\\-0.05\\-0.05\\-0.05\\-0.05\\-0.05\\-0.05\\0.0\\0.0\\0.0\\0.0\\0.0\\0.0\\0.0\\0.0\\0.0\\0.0\\0.0\\0.0\\0.0\\0.0\\0.0\\0.0\\0.0\\0.0\\-0.05\\-0.1\\-0.1\\-0.25\\
-0.4\\-0.4\\-0.4\\-0.25\\-0.25\\-0.25\\-0.25\\-0.25\\-0.25\\-0.25\\-0.25\\-0.15\\-0.15\\-0.15\\-0.15\\-0.15\\-0.15\\-0.15\\-0.15\\-0.05\\-0.05\\-0.05\\-0.05\\-0.05\\-0.05\\-0.05\\-0.05\\-0.05\\-0.05\\-0.05\\-0.05\\-0.05\\-0.05\\-0.05\\-0.05\\-0.05\\-0.15\\-0.15\\-0.15\\-0.15\\-0.25\\
-0.5\\-0.5\\-0.5\\-0.5\\-0.5\\-0.35\\-0.35\\-0.35\\-0.35\\-0.35\\-0.35\\-0.35\\-0.2\\-0.2\\-0.2\\-0.2\\-0.2\\-0.2\\-0.2\\-0.25\\-0.15\\-0.15\\-0.15\\-0.15\\-0.15\\-0.15\\-0.15\\-0.15\\-0.15\\-0.15\\-0.15\\-0.15\\-0.15\\-0.15\\-0.15\\-0.15\\-0.15\\-0.3\\-0.3\\-0.3\\-0.35\\
-0.55\\-0.55\\-0.55\\-0.55\\-0.55\\-0.55\\-0.55\\-0.45\\-0.45\\-0.45\\-0.45\\-0.45\\-0.45\\-0.45\\-0.45\\-0.45\\-0.35\\-0.35\\-0.35\\-0.4\\-0.4\\-0.4\\-0.4\\-0.3\\-0.3\\-0.3\\-0.3\\-0.3\\-0.3\\-0.3\\-0.3\\-0.3\\-0.3\\-0.3\\-0.3\\-0.3\\-0.3\\-0.3\\-0.3\\-0.3\\-0.4\\
-0.75\\-0.75\\-0.75\\-0.75\\-0.75\\-0.75\\-0.75\\-0.75\\-0.75\\-0.75\\-0.75\\-0.6\\-0.6\\-0.6\\-0.6\\-0.6\\-0.6\\-0.6\\-0.6\\-0.55\\-0.55\\-0.55\\-0.55\\-0.55\\-0.55\\-0.4\\-0.4\\-0.4\\-0.4\\-0.4\\-0.4\\-0.4\\-0.4\\-0.4\\-0.4\\-0.4\\-0.4\\-0.4\\-0.4\\-0.4\\-0.45\\
-0.8\\-0.8\\-0.8\\-0.8\\-0.8\\-0.8\\-0.8\\-0.8\\-0.8\\-0.8\\-0.8\\-0.7\\-0.7\\-0.7\\-0.7\\-0.7\\-0.7\\-0.7\\-0.7\\-0.6\\-0.6\\-0.6\\-0.6\\-0.6\\-0.6\\-0.45\\-0.45\\-0.45\\-0.45\\-0.45\\-0.45\\-0.4\\-0.4\\-0.4\\-0.4\\-0.4\\-0.4\\-0.4\\-0.4\\-0.4\\-0.42\\
-0.82\\-0.82\\-0.82\\-0.82\\-0.82\\-0.82\\-0.82\\-0.82\\-0.82\\-0.82\\-0.82\\-0.82\\-0.82\\-0.82\\-0.82\\-0.82\\-0.7\\-0.7\\-0.7\\-0.7\\-0.7\\-0.7\\-0.6\\-0.6\\-0.6\\-0.6\\-0.6\\-0.6\\-0.6\\-0.5\\-0.5\\-0.5\\-0.5\\-0.5\\-0.5\\-0.5\\-0.5\\-0.5\\-0.5\\-0.5\\-0.5\\
-0.82\\-0.82\\-0.82\\-0.82\\-0.82\\-0.82\\-0.82\\-0.82\\-0.82\\-0.82\\-0.82\\-0.82\\-0.82\\-0.82\\-0.82\\-0.82\\-0.7\\-0.7\\-0.7\\-0.75\\-0.75\\-0.72\\-0.72\\-0.72\\-0.65\\-0.65\\-0.65\\-0.65\\-0.65\\-0.65\\-0.65\\-0.65\\-0.65\\-0.65\\-0.52\\-0.52\\-0.52\\-0.52\\-0.52\\-0.52\\-0.52\\
-0.8\\-0.8\\-0.8\\-0.8\\-0.8\\-0.8\\-0.8\\-0.8\\-0.8\\-0.8\\-0.8\\-0.8\\-0.8\\-0.7\\-0.7\\-0.7\\-0.7\\-0.7\\-0.7\\-0.72\\-0.72\\-0.72\\-0.72\\-0.72\\-0.72\\-0.65\\-0.65\\-0.65\\-0.65\\-0.65\\-0.65\\-0.65\\-0.65\\-0.65\\-0.65\\-0.65\\-0.65\\-0.65\\-0.6\\-0.6\\-0.6\\
-0.75\\-0.75\\-0.75\\-0.75\\-0.75\\-0.75\\-0.75\\-0.75\\-0.75\\-0.75\\-0.7\\-0.7\\-0.7\\-0.7\\-0.7\\-0.7\\-0.7\\-0.7\\-0.7\\-0.72\\-0.72\\-0.65\\-0.65\\-0.65\\-0.65\\-0.65\\-0.65\\-0.65\\-0.65\\-0.65\\-0.65\\-0.65\\-0.65\\-0.65\\-0.65\\-0.65\\-0.65\\-0.65\\-0.65\\-0.65\\-0.65\\
-0.72\\-0.72\\-0.72\\-0.72\\-0.72\\-0.72\\-0.72\\-0.72\\-0.72\\-0.72\\-0.62\\-0.62\\-0.62\\-0.62\\-0.62\\-0.62\\-0.62\\-0.62\\-0.62\\-0.62\\-0.6\\-0.6\\-0.6\\-0.6\\-0.6\\-0.6\\-0.6\\-0.6\\-0.6\\-0.6\\-0.6\\-0.55\\-0.55\\-0.55\\-0.55\\-0.55\\-0.55\\-0.55\\-0.55\\-0.55\\-0.55\\
-0.55\\-0.55\\-0.55\\-0.55\\-0.55\\-0.55\\-0.55\\-0.55\\-0.55\\-0.55\\-0.55\\-0.55\\-0.48\\-0.48\\-0.48\\-0.48\\-0.48\\-0.48\\-0.48\\-0.48\\-0.48\\-0.48\\-0.48\\-0.48\\-0.48\\-0.48\\-0.48\\-0.48\\-0.48\\-0.48\\-0.48\\-0.48\\-0.4\\-0.4\\-0.4\\-0.4\\-0.4\\-0.4\\-0.4\\-0.4\\-0.5\\
-0.38\\-0.38\\-0.38\\-0.38\\-0.38\\-0.38\\-0.38\\-0.38\\-0.38\\-0.28\\-0.28\\-0.28\\-0.28\\-0.28\\-0.28\\-0.28\\-0.28\\-0.28\\-0.28\\-0.28\\-0.28\\-0.28\\-0.28\\-0.28\\-0.28\\-0.28\\-0.28\\-0.28\\-0.28\\-0.28\\-0.28\\-0.28\\-0.28\\-0.28\\-0.28\\-0.28\\-0.28\\-0.28\\-0.28\\-0.28\\-0.28\\
-0.22\\-0.22\\-0.22\\-0.22\\-0.22\\-0.22\\-0.22\\-0.22\\-0.22\\-0.22\\-0.22\\-0.22\\-0.22\\-0.22\\-0.15\\-0.15\\-0.15\\-0.15\\-0.15\\-0.15\\-0.15\\-0.15\\-0.15\\-0.08\\-0.08\\-0.08\\-0.08\\-0.08\\-0.08\\-0.08\\-0.08\\-0.08\\-0.08\\-0.08\\-0.08\\-0.08\\-0.08\\-0.08\\-0.08\\-0.08\\-0.08\\
};
\addplot[white, line width=2pt, dash pattern=on 8pt off 5pt] table[x=yr,y=f] {\coi};
\end{axis}
\end{tikzpicture}
\end{document}
